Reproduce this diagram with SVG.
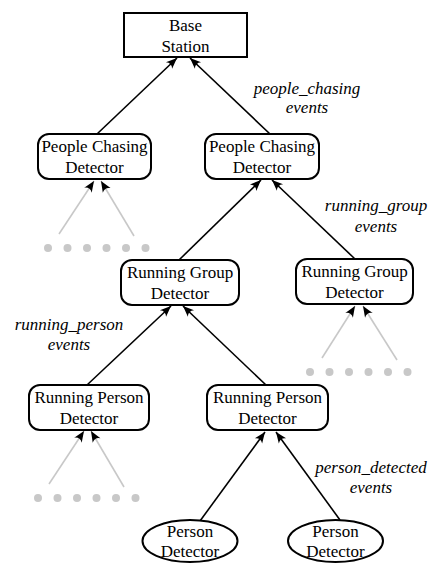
<svg xmlns="http://www.w3.org/2000/svg" width="432" height="571" viewBox="0 0 432 571">
<style>
.box{fill:#fff;stroke:#000;stroke-width:2}
.t{font-family:'Liberation Serif', Tinos, 'DejaVu Serif', serif;font-size:17px;fill:#000;text-anchor:middle}
.lab{font-family:'Liberation Serif', Tinos, 'DejaVu Serif', serif;font-size:17px;font-style:italic;fill:#000;text-anchor:middle}
.e{stroke:#000;stroke-width:1.6;fill:none;marker-end:url(#ah)}
.g{stroke:#c8c8c8;stroke-width:1.6;fill:none;marker-end:url(#ah)}
.dot{fill:#c8c8c8}
</style>
<defs>
<marker id="ah" markerUnits="userSpaceOnUse" markerWidth="14" markerHeight="12" viewBox="-12 -6 14 12" refX="0" refY="0" orient="auto">
<path d="M0,0 L-11,-4.5 Q-7,0 -11,4.5 Z" fill="#000"/>
</marker>
</defs>
<rect width="432" height="571" fill="#fff"/>
<g id="connectors">
<line class="e" x1="97" y1="134" x2="177" y2="58"/>
<line class="e" x1="270" y1="134" x2="190" y2="58"/>
<line class="g" x1="59" y1="234" x2="94" y2="181"/>
<line class="g" x1="134" y1="236" x2="101" y2="181"/>
<line class="e" x1="179" y1="260" x2="261" y2="180"/>
<line class="e" x1="355" y1="259" x2="272" y2="180"/>
<line class="g" x1="322" y1="358" x2="355" y2="306"/>
<line class="g" x1="397" y1="360" x2="363" y2="306"/>
<line class="e" x1="87" y1="385" x2="171" y2="306"/>
<line class="e" x1="266" y1="385" x2="183" y2="306"/>
<line class="g" x1="49" y1="484" x2="84" y2="431"/>
<line class="g" x1="124" y1="487" x2="91" y2="431"/>
<line class="e" x1="200" y1="521" x2="265" y2="432"/>
<line class="e" x1="340" y1="520" x2="276" y2="432"/>
</g>
<g id="base-station">
<rect class="box" x="124" y="13" width="123" height="44"/>
<text class="t" x="185.5" y="31">Base</text>
<text class="t" x="185.5" y="52">Station</text>
</g>
<g id="pcd-left">
<rect class="box" x="38" y="134" width="113" height="45" rx="11"/>
<text class="t" x="94.5" y="152">People Chasing</text>
<text class="t" x="94.5" y="173">Detector</text>
</g>
<g id="pcd-right">
<rect class="box" x="205" y="134" width="114" height="45" rx="11"/>
<text class="t" x="262" y="152">People Chasing</text>
<text class="t" x="262" y="173">Detector</text>
</g>
<g id="rgd-left">
<rect class="box" x="121" y="260" width="118" height="45" rx="11"/>
<text class="t" x="180" y="278">Running Group</text>
<text class="t" x="180" y="299">Detector</text>
</g>
<g id="rgd-right">
<rect class="box" x="296" y="259" width="117" height="45" rx="11"/>
<text class="t" x="354.5" y="277">Running Group</text>
<text class="t" x="354.5" y="298">Detector</text>
</g>
<g id="rpd-left">
<rect class="box" x="29" y="385" width="120" height="45" rx="11"/>
<text class="t" x="89" y="403">Running Person</text>
<text class="t" x="89" y="424">Detector</text>
</g>
<g id="rpd-right">
<rect class="box" x="207" y="385" width="121" height="45" rx="11"/>
<text class="t" x="267.5" y="403">Running Person</text>
<text class="t" x="267.5" y="424">Detector</text>
</g>
<g id="pd-left">
<ellipse class="box" cx="190" cy="541" rx="47.5" ry="21"/>
<text class="t" x="190" y="537">Person</text>
<text class="t" x="190" y="557">Detector</text>
</g>
<g id="pd-right">
<ellipse class="box" cx="335.5" cy="541" rx="47.5" ry="21"/>
<text class="t" x="335.5" y="537">Person</text>
<text class="t" x="335.5" y="557">Detector</text>
</g>
<g id="dots-1">
<circle class="dot" cx="48" cy="248" r="4"/><circle class="dot" cx="67.5" cy="248" r="4"/><circle class="dot" cx="87" cy="248" r="4"/><circle class="dot" cx="106.5" cy="248" r="4"/><circle class="dot" cx="126" cy="248" r="4"/><circle class="dot" cx="145.5" cy="248" r="4"/>
</g>
<g id="dots-2">
<circle class="dot" cx="310" cy="372" r="4"/><circle class="dot" cx="329.5" cy="372" r="4"/><circle class="dot" cx="349" cy="372" r="4"/><circle class="dot" cx="368.5" cy="372" r="4"/><circle class="dot" cx="388" cy="372" r="4"/><circle class="dot" cx="407.5" cy="372" r="4"/>
</g>
<g id="dots-3">
<circle class="dot" cx="38" cy="498" r="4"/><circle class="dot" cx="57.5" cy="498" r="4"/><circle class="dot" cx="77" cy="498" r="4"/><circle class="dot" cx="96.5" cy="498" r="4"/><circle class="dot" cx="116" cy="498" r="4"/><circle class="dot" cx="135.5" cy="498" r="4"/>
</g>
<g id="labels">
<text class="lab" x="307" y="94">people_chasing</text>
<text class="lab" x="307" y="113">events</text>
<text class="lab" x="376" y="211">running_group</text>
<text class="lab" x="376" y="232">events</text>
<text class="lab" x="69" y="330">running_person</text>
<text class="lab" x="69" y="350">events</text>
<text class="lab" x="371" y="473">person_detected</text>
<text class="lab" x="371" y="493">events</text>
</g>
</svg>
